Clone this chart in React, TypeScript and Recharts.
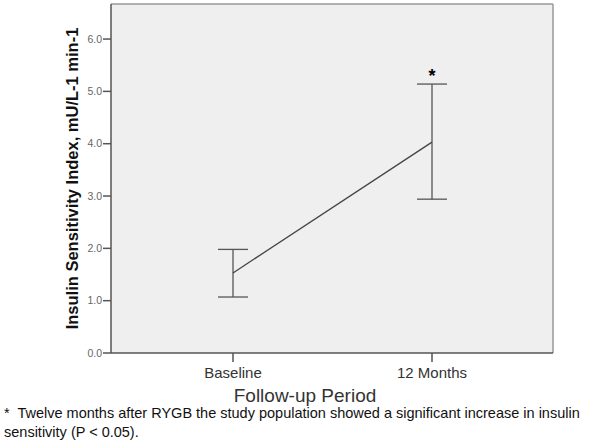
import { LineChart, Line, XAxis, YAxis, ErrorBar, ReferenceDot, CartesianGrid } from "recharts";

const periods = ["Baseline", "12 Months"];
const means = [1.53, 4.03];
const lowerCI = [1.07, 2.94];
const upperCI = [1.98, 5.14];
const yTicks = [0, 1, 2, 3, 4, 5, 6];

const data = periods.map((p, i) => ({
  period: p,
  value: means[i],
  err: [means[i] - lowerCI[i], upperCI[i] - means[i]],
}));

const font = "'Liberation Sans', Arial, sans-serif";

export default function App() {
  return (
    <div style={{ position: "absolute", left: 0, top: 0, width: 600, height: 446, background: "#fff", fontFamily: font }}>
      <LineChart width={600} height={446} data={data} margin={{ top: 4, right: 47, left: 0, bottom: 43 }}>
        <CartesianGrid
          fill="#efefef"
          stroke="#999"
          strokeWidth={1.5}
          horizontalPoints={[4]}
          verticalPoints={[553]}
        />
        <XAxis
          dataKey="period"
          padding={{ left: 122, right: 121 }}
          height={50}
          stroke="#555"
          strokeWidth={1.5}
          tickSize={9}
          tickMargin={5}
          tick={{ fill: "#333", fontSize: 15, fontFamily: font }}
          label={{
            content: ({ viewBox }: any) => (
              <text x={viewBox.x + viewBox.width / 2 - 27} y={402} textAnchor="middle" fill="#333" fontSize={19} fontFamily={font}>
                Follow-up Period
              </text>
            ),
          }}
        />
        <YAxis
          domain={[0, 6.67]}
          ticks={yTicks}
          width={111}
          stroke="#555"
          strokeWidth={1.5}
          tickSize={8}
          tickMargin={1}
          tickFormatter={(v: number) => v.toFixed(1)}
          tick={{ fill: "#666", fontSize: 10.5, fontFamily: font }}
          label={{
            content: ({ viewBox }: any) => {
              const cx = 72;
              const cy = viewBox.y + viewBox.height / 2;
              return (
                <text x={cx} y={cy} transform={`rotate(-90 ${cx} ${cy})`} textAnchor="middle" dominantBaseline="central" fill="#111" fontSize={16.5} fontWeight="bold" fontFamily={font}>
                  Insulin Sensitivity Index, mU/L-1 min-1
                </text>
              );
            },
          }}
        />
        <Line dataKey="value" stroke="#444" strokeWidth={1.3} dot={false} isAnimationActive={false}>
          <ErrorBar dataKey="err" width={15} stroke="#555" strokeWidth={1.3} direction="y" />
        </Line>
        <ReferenceDot
          x={periods[1]}
          y={upperCI[1]}
          r={0}
          stroke="none"
          label={{ value: "*", position: "top", offset: 2, fill: "#000", fontSize: 18, fontWeight: "bold", fontFamily: font }}
        />
      </LineChart>
      <div style={{ position: "absolute", left: 4, top: 404, width: 596, fontSize: 14.5, lineHeight: "19px", color: "#111", fontFamily: font, whiteSpace: "nowrap" }}>
        *&nbsp; Twelve months after RYGB the study population showed a significant increase in insulin
        <br />
        sensitivity (P &lt; 0.05).
      </div>
    </div>
  );
}
